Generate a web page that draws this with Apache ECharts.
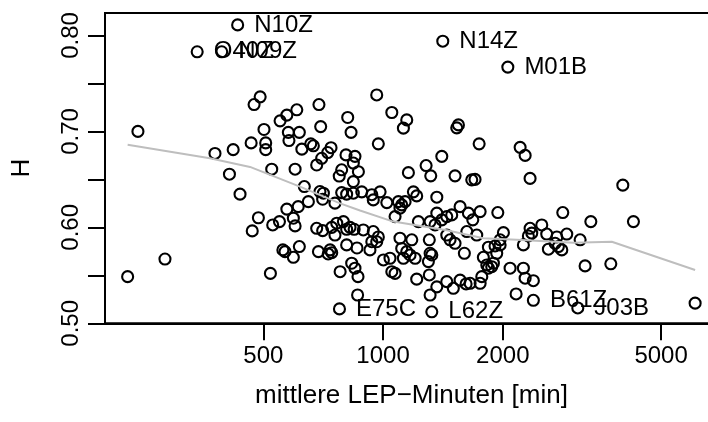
<!DOCTYPE html>
<html>
<head>
<meta charset="utf-8">
<script src="https://cdn.jsdelivr.net/npm/echarts@6/dist/echarts.min.js"></script>
<style>html,body{margin:0;padding:0;background:#fff}#c{width:708px;height:422px}</style>
</head>
<body>
<div id="c"></div>
<script>
// mittlere LEP-Minuten (x) and H (y) for unlabeled points
const pointMinutes = [491,474,242,690,607,573,551,502,578,616,697,815,831,580,507,466,420,378,507,625,658,668,740,726,807,850,701,
681,842,787,776,842,411,525,601,437,634,649,694,708,705,757,787,810,842,612,573,595,601,549,528,486,469,681,705,743,765,795,757,810,846,
560,567,595,616,688,736,743,728,810,860,283,228,521,780,834,850,865,863,
964,1052,1147,1125,973,1547,1532,1744,2211,2276,1405,
867,1283,1318,1158,1517,1671,1703,2342,4006,983,884,937,945,1022,1093,1114,1136,1103,1192,1215,1365,1072,1227,1313,1365,1351,1405,1446,1488,1562,1639,1681,1754,1943,2830,3329,4260,2506,2007,1969,1624,1720,1446,1474,1517,2342,2365,2319,2579,2734,2896,2707,2759,2604,2814,3129,2253,1840,1912,1969,1931,1601,1787,1823,1840,1876,1894,2086,2253,2276,2387,3220,3737,826,892,945,973,964,927,937,1103,1181,1114,1147,1169,1204,1125,1307,1313,1326,1300,1307,1002,1041,1052,1072,1215,1365,1446,1502,1562,1617,1655,1754,1771,1313,2160,6088];
const pointH = [0.736,0.728,0.700,0.728,0.7225,0.717,0.711,0.702,0.699,0.699,0.705,0.7145,0.699,0.6905,0.688,0.688,0.681,0.677,0.681,0.6815,0.687,0.685,0.683,0.678,0.6755,0.674,0.672,
0.665,0.667,0.660,0.6535,0.6477,0.6554,0.6606,0.6606,0.6346,0.6425,0.6268,0.6373,0.6356,0.6293,0.6252,0.6362,0.6346,0.6356,0.6216,0.619,0.6095,0.6015,0.606,0.6025,0.610,0.5963,0.599,0.5966,0.600,0.6043,0.606,0.592,0.598,0.598,
0.5765,0.5747,0.5688,0.580,0.5747,0.5765,0.5736,0.5723,0.5817,0.5785,0.567,0.5486,0.552,0.5538,0.5626,0.5574,0.5486,0.5295,
0.738,0.7197,0.712,0.7034,0.687,0.7068,0.7037,0.687,0.6834,0.675,0.674,
0.658,0.6644,0.6537,0.657,0.6537,0.6495,0.650,0.651,0.644,0.637,0.637,0.634,0.6286,0.6258,0.6268,0.6234,0.6268,0.620,0.637,0.6328,0.6314,0.6112,0.606,0.606,0.6148,0.6025,0.6078,0.6112,0.613,0.6216,0.6148,0.6078,0.6164,0.6154,0.6154,0.606,0.606,0.6025,0.5945,0.587,0.5956,0.592,0.592,0.587,0.5834,0.599,0.594,0.591,0.593,0.590,0.593,0.5834,0.580,0.5772,0.5765,0.587,0.5817,0.5793,0.5806,0.5817,0.573,0.573,0.5688,0.5608,0.5574,0.559,0.5626,0.5574,0.5574,0.547,0.5444,0.5598,0.562,0.600,0.5973,0.5956,0.590,0.585,0.5765,0.585,0.5887,0.587,0.578,0.5747,0.5712,0.5678,0.5678,0.587,0.573,0.5712,0.5643,0.5504,0.566,0.5678,0.5538,0.552,0.546,0.538,0.5434,0.5365,0.545,0.541,0.5417,0.5417,0.5486,0.5295,0.5306,0.521];

// labeled points
const labelNames = ["N10Z","O40Z","N09Z","N14Z","M01B","E75C","L62Z","B61Z","J03B"];
const labelMinutes = [431,341,393,1413,2059,777,1326,2387,3087];
const labelH = [0.811,0.783,0.783,0.794,0.767,0.515,0.512,0.524,0.516];

// lowess smoother
const lowessMinutes = [228,367,463,618,780,875,1061,1446,1787,2169,3010,3759,6088];
const lowessH = [0.686,0.672,0.663,0.6425,0.625,0.6175,0.606,0.597,0.5887,0.587,0.584,0.585,0.5556];

const xTicks = [500,1000,2000,5000];
const yTicks = [0.50,0.55,0.60,0.65,0.70,0.75,0.80];
const yLabels = [0.50,0.60,0.70,0.80];

const FONT = "'Liberation Sans', Arial, Helvetica, sans-serif";
const FS = 24;
const FS_TITLE = 26;

const chart = echarts.init(document.getElementById('c'), null, {renderer:'canvas'});
chart.setOption({
  animation: false,
  backgroundColor: '#ffffff',
  grid: {left: 105, top: 13, right: -10, bottom: 98.7, containLabel: false, outerBoundsMode: 'none',
         show: true, borderColor: '#000', borderWidth: 2, backgroundColor: 'transparent'},
  xAxis: {
    type: 'log', logBase: 10, min: 200, max: 6950,
    name: 'mittlere LEP\u2212Minuten [min]', nameLocation: 'middle', nameGap: 60,
    nameTextStyle: {fontFamily: FONT, fontSize: FS_TITLE, color: '#000'},
    axisLine: {show: true, onZero: false, lineStyle: {color: '#000', width: 2}},
    axisTick: {show: true, length: 17, lineStyle: {color: '#000', width: 2}, customValues: xTicks},
    axisLabel: {customValues: xTicks, margin: 21, fontFamily: FONT, fontSize: FS, color: '#000',
                formatter: v => String(Math.round(v))},
    splitLine: {show: false}, minorTick: {show: false}
  },
  yAxis: {
    type: 'value', min: 0.5, max: 0.8234,
    name: 'H', nameLocation: 'middle', nameGap: 70, nameRotate: 90,
    nameTextStyle: {fontFamily: FONT, fontSize: FS_TITLE, color: '#000'},
    axisLine: {show: true, onZero: false, lineStyle: {color: '#000', width: 2}},
    axisTick: {show: true, length: 17, lineStyle: {color: '#000', width: 2}, customValues: yTicks},
    axisLabel: {customValues: yLabels, rotate: 90, margin: 22, fontFamily: FONT, fontSize: FS, color: '#000',
                formatter: v => v.toFixed(2)},
    splitLine: {show: false}
  },
  series: [
    {
      type: 'scatter', symbol: 'circle', symbolSize: 11,
      itemStyle: {color: 'transparent', borderColor: '#000', borderWidth: 2.1, opacity: 1},
      data: pointMinutes.map((x, i) => [x, pointH[i]]),
      z: 2
    },
    {
      type: 'scatter', symbol: 'circle', symbolSize: 11,
      itemStyle: {color: 'transparent', borderColor: '#000', borderWidth: 2.1, opacity: 1},
      label: {show: true, position: 'right', distance: 10, fontFamily: FONT, fontSize: FS, color: '#000',
              opacity: 1, formatter: p => p.data.name},
      data: labelMinutes.map((x, i) => ({name: labelNames[i], value: [x, labelH[i]]})),
      z: 3
    },
    {
      type: 'line', symbol: 'none', smooth: false,
      lineStyle: {color: '#bebebe', width: 2, opacity: 1},
      data: lowessMinutes.map((x, i) => [x, lowessH[i]]),
      z: 4
    }
  ]
});
</script>
</body>
</html>
